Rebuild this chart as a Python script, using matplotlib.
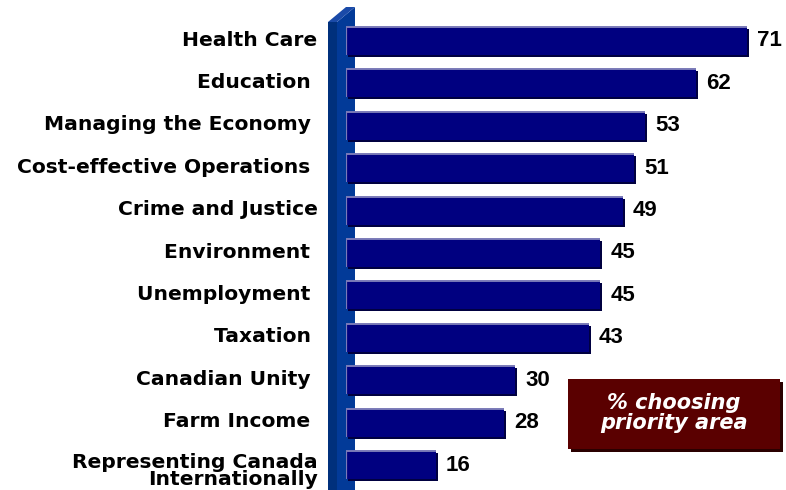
import matplotlib
matplotlib.use("Agg")
import matplotlib.pyplot as plt
from matplotlib.patches import Polygon, Rectangle
from matplotlib.transforms import offset_copy

plt.rcParams['font.family'] = ['Liberation Sans', 'DejaVu Sans']

categories = [
    "Health Care",
    "Education ",
    "Managing the Economy ",
    "Cost-effective Operations ",
    "Crime and Justice",
    "Environment ",
    "Unemployment ",
    "Taxation ",
    "Canadian Unity ",
    "Farm Income ",
    "Representing Canada\nInternationally",
]
values = [71, 62, 53, 51, 49, 45, 45, 43, 30, 28, 16]
legend_text = "% choosing\npriority area"

W, H = 786, 490
fig = plt.figure(figsize=(W / 100, H / 100), dpi=100)
fig.patch.set_facecolor("white")

# axes: zero of the value scale sits on the face of the wall
x0_px = 345.5
px_per_unit = 5.66
ax = fig.add_axes([x0_px / W, 0, 1 - x0_px / W, 1])
ax.set_xlim(0, (W - x0_px) / px_per_unit)
row_px = 42.4
first_px = 41.0
top = -first_px / row_px
ax.set_ylim(top + H / row_px, top)
ax.axis("off")

def fx(px):
    return px / W

def fy(py):
    return 1 - py / H

# 3-D wall on the left of the bars
wall_side = Polygon([(fx(328), fy(490)), (fx(328), fy(22)), (fx(337), fy(22)),
                     (fx(337), fy(490))], closed=True, transform=fig.transFigure,
                    facecolor="#00307c", edgecolor="none", zorder=0)
wall_front = Polygon([(fx(337), fy(490)), (fx(337), fy(22)), (fx(355), fy(7)),
                      (fx(355), fy(490))], closed=True, transform=fig.transFigure,
                     facecolor="#023a98", edgecolor="none", zorder=0)
wall_top = Polygon([(fx(328), fy(22)), (fx(337), fy(22)), (fx(355), fy(7)),
                    (fx(346), fy(7))], closed=True, transform=fig.transFigure,
                   facecolor="#1a4aa8", edgecolor="none", zorder=0)
for p in (wall_side, wall_front, wall_top):
    fig.add_artist(p)

ypos = list(range(len(categories)))
bar_h = 28 / row_px

# drop shadow, bar body, then lit top/left edges
shadow_tr = offset_copy(ax.transData, fig=fig, x=2, y=-2, units="dots")
ax.barh(ypos, values, height=bar_h, left=0, color="#000040", transform=shadow_tr,
        zorder=2)
ax.barh(ypos, values, height=bar_h, left=0, color="#000080", zorder=3)
for y, v in zip(ypos, values):
    ax.plot([0, v], [y - bar_h / 2, y - bar_h / 2], color="#7a7ab8", lw=1.4,
            solid_capstyle="butt", zorder=4)
    ax.plot([0.15, 0.15], [y - bar_h / 2, y + bar_h / 2], color="#7a7ab8", lw=1.6,
            solid_capstyle="butt", zorder=4)

# value labels
val_tr = offset_copy(ax.transData, fig=fig, x=10, y=0, units="dots")
for y, v in zip(ypos, values):
    ax.text(v, y, str(v), transform=val_tr, ha="left", va="center",
            fontsize=16, fontweight="bold", color="black")

# category labels
for y, c in zip(ypos, categories):
    multi = "\n" in c
    tr = offset_copy(ax.transData, fig=fig, x=-28, y=-6 if multi else 1,
                     units="dots")
    ax.text(0, y, c, transform=tr, ha="right", va="center", fontsize=14.6,
            fontweight="bold", color="black", linespacing=0.88, clip_on=False,
            family=["DejaVu Sans"])

# legend box
fig.add_artist(Rectangle((fx(571), fy(452)), (780 - 568) / W, (449 - 379) / H,
                         transform=fig.transFigure, facecolor="#2a0000",
                         edgecolor="none", zorder=5))
fig.add_artist(Rectangle((fx(568), fy(449)), (780 - 568) / W, (449 - 379) / H,
                         transform=fig.transFigure, facecolor="#5a0000",
                         edgecolor="none", zorder=6))
fig.text(fx(674), fy(413), legend_text, ha="center", va="center", fontsize=15,
         fontweight="bold", fontstyle="italic", color="white", linespacing=1.05,
         zorder=7, family=["DejaVu Sans"])

fig.savefig("out.png", dpi=100)
